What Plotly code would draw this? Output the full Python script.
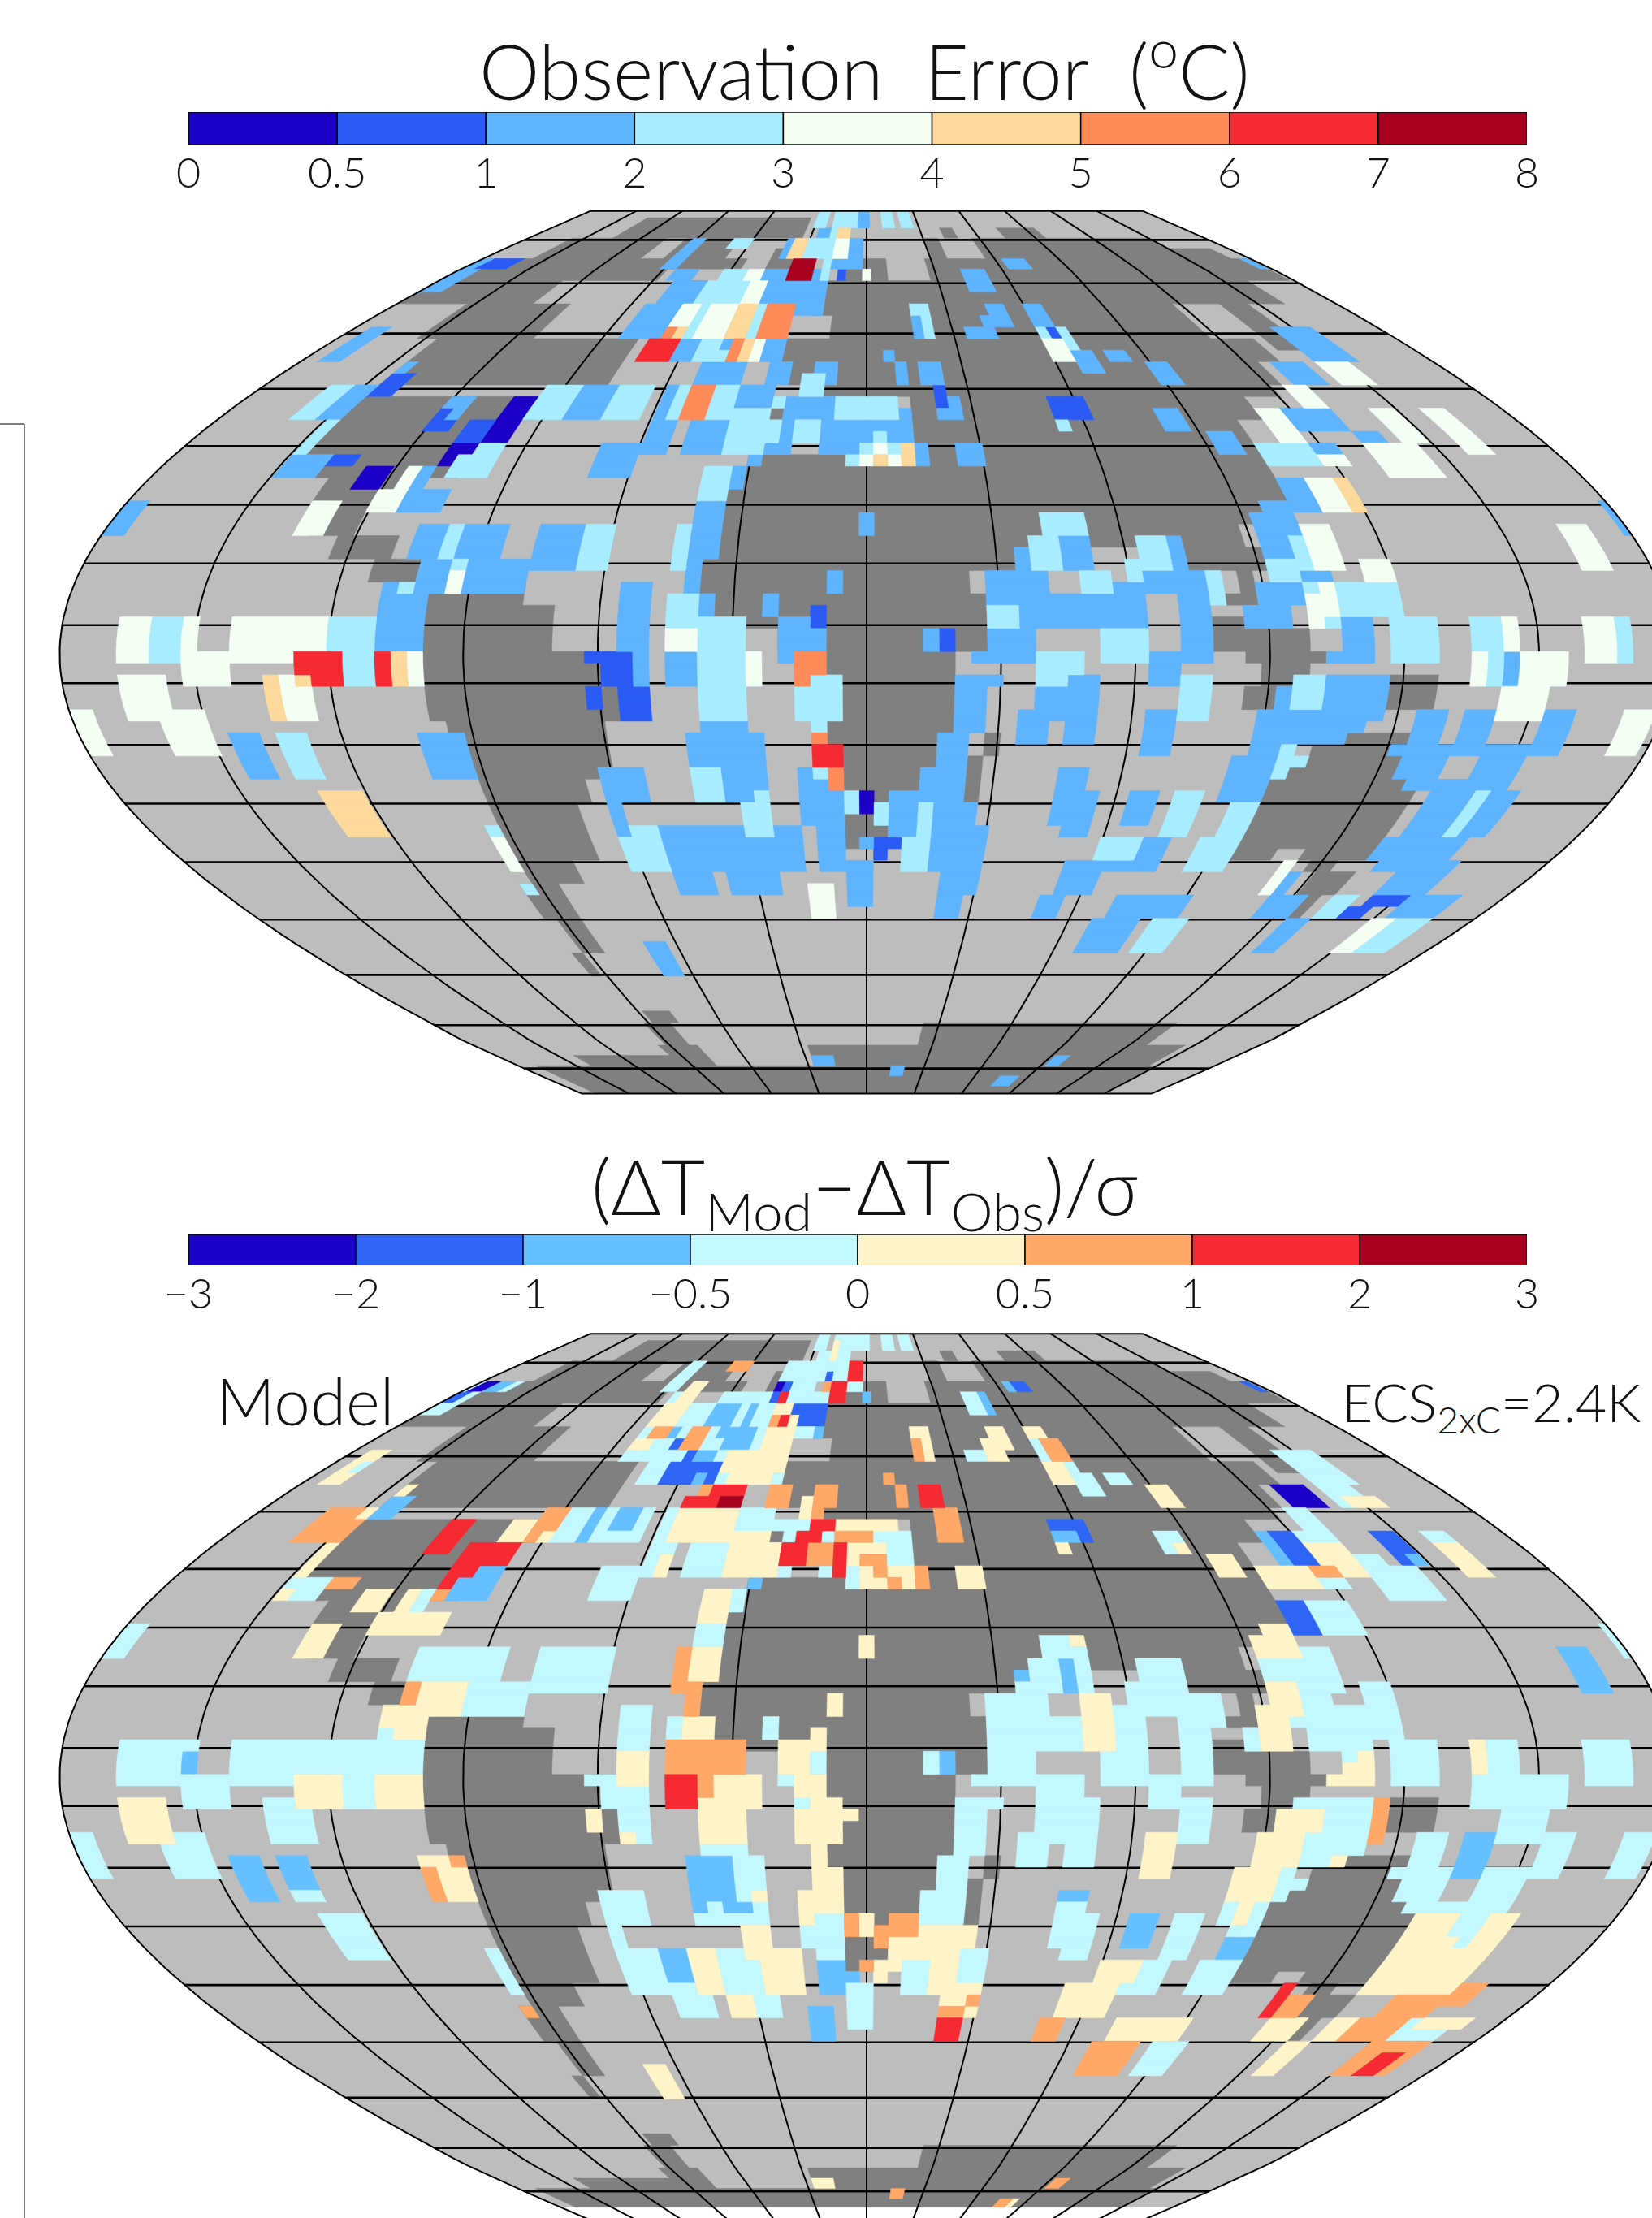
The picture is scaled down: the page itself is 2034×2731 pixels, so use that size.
import numpy as np
import plotly.graph_objects as go

# ---------- colour classes and tick labels ----------
TOP_TITLE = "Observation  Error  (<sup>o</sup>C)"
BOTTOM_TITLE = "(ΔT<sub>Mod</sub>−ΔT<sub>Obs</sub>)/σ"
TOP_TICKS = ["0", "0.5", "1", "2", "3", "4", "5", "6", "7", "8"]
BOTTOM_TICKS = ["−3", "−2", "−1", "−0.5", "0", "0.5", "1", "2", "3"]
TOP_COLORS = ["#1c00c8", "#2a5cf5", "#5fb4ff", "#a8ecff", "#f4fff4", "#fdd99b", "#ff8a5a", "#f52a33", "#a80020"]
BOTTOM_COLORS = ["#1c00c8", "#2f66f5", "#66c0ff", "#c4f8ff", "#fff4c8", "#ffa868", "#f52a33", "#a80020"]
OCEAN = "#bdbdbd"
LAND = "#808080"

# ---------- model grid: 3.6 deg columns, 1.8 deg rows ----------
LON_STEP = 3.6
LAT_STEP = 1.8
LAT_TOP = 70.6
MERIDIANS = list(range(-180, 181, 30))
PARALLELS = [64.9, 57.6, 49.8, 41.2, 32.3, 23.2, 14.1, 4.5, -4.5, -14.1, -23.2, -32.3, -41.2, -49.8, -57.6, -64.9]

# (first column, end column, first row, end row) of land
LAND_BLOCKS = [
 (-37,-9,1,3),(21,27,2,3),(12,14,2,3),(-43,-29,3,5),(-26,-18,3,6),(9,11,3,5),(16,42,3,4),(16,48,4,5),
 (-49,-24,5,7),(-21,-15,5,6),(-12,-9,4,7),(-2,3,5,7),(8,50,5,7),(-50,-35,7,9),(-20,-18,7,9),(-5,45,7,9),
 (-42,-31,9,12),(-5,33,9,10),(-3,33,10,12),(38,41,9,13),(-40,-21,12,16),(-8,37,12,14),(-6,35,14,16),
 (-41,-25,17,19),(-3,34,16,17),(4,31,17,19),(-7,-6,18,19),(-41,-28,19,22),(4,29,19,22),(-38,-28,22,24),
 (-8,29,22,24),(-37,-32,24,26),(-10,29,24,26),(-36,-33,26,29),(-9,27,26,28),(-34,-30,29,31),(-10,25,28,30),
 (-31,-28,31,33),(-10,10,30,32),(21,26,30,32),(-10,7,32,34),(24,25,32,34),(-28,-21,33,35),(-10,8,34,35),
 (23,25,34,35),(-27,-19,35,39),(-9,8,35,37),(22,24,36,37),(-5,8,37,39),(-7,-4,36,37),(22,28,37,39),
 (-27,-15,39,42),(-2,6,39,42),(24,29,39,40),(25,28,40,42),(24,26,42,44),(33,36,41,44),(-27,-15,42,45),
 (-1,6,42,45),(-26,-16,45,47),(-2,6,45,47),(-25,-16,47,50),(-1,5,47,50),(8,9,46,48),(7,8,48,52),
 (-25,-18,50,52),(-1,4,50,52),(-1,2,52,54),(-25,-19,52,57),(-1,2,54,56),(31,35,46,47),(29,35,47,49),
 (28,36,49,50),(27,37,50,56),(27,30,56,57),(32,37,56,57),(33,35,57,58),(34,37,58,60),(35,36,60,62),
 (-25,-21,57,59),(-26,-23,59,62),(-25,-23,62,65),(-26,-25,65,67),(-24,-21,70,71),(-25,-22,71,73),
 (7,36,71,73),(-26,-21,73,74),(-7,41,73,75),(-39,-21,74,75),(-47,42,75,78),
]

# (first column, end column, first row, end row, colour class) of the upper map
TOP_BLOCKS = [
 (-50,-47,5,8,2),(-48,-44,5,6,1),(-48,-46,11,14,2),(-40,-39,14,15,2),(-40,-38,15,17,1),(-44,-42,16,19,3),
 (-42,-40,16,19,2),(-41,-40,19,22,3),(-41,-38,22,24,2),(-38,-36,22,23,1),(-35,-33,23,25,0),(-32,-31,23,25,4),
 (-31,-30,23,25,2),(-33,-31,25,27,4),(-31,-28,25,27,2),(-37,-35,26,29,4),(-50,-48,26,29,2),(-33,-31,17,19,2),
 (-33,-31,19,20,1),(-33,-32,18,19,1),(-28,-26,17,19,0),(-30,-28,19,21,1),(-28,-26,19,21,0),(-30,-28,21,23,0),
 (-28,-26,21,22,3),(-29,-26,22,24,3),(-26,-23,16,19,3),(-23,-20,16,19,2),(-20,-17,16,19,3),
 (-29,-27,28,31,2),(-27,-26,28,31,3),(-26,-23,28,31,2),(-21,-18,28,31,2),(-18,-16,28,32,3),
 (-28,-26,31,34,2),(-26,-25,31,32,3),(-26,-25,32,34,4),(-25,-21,31,34,2),(-21,-18,31,32,2),
 (-30,-27,33,39,2),(-29,-28,33,34,3),
 (-46,-44,36,40,4),(-44,-42,36,40,3),(-42,-41,36,40,4),(-39,-33,36,40,4),(-33,-30,36,39,3),
 (-35,-32,39,42,7),(-32,-30,39,42,3),(-30,-29,39,42,7),(-29,-28,39,42,5),(-28,-27,39,42,4),(-42,-39,39,42,4),
 (-46,-43,41,45,4),(-44,-41,44,48,4),(-37,-36,41,45,5),(-36,-34,41,45,4),(-35,-34,41,42,5),(-50,-48,44,48,4),
 (-40,-38,46,50,2),(-37,-35,46,50,3),(-28,-25,46,50,2),(-36,-33,51,55,5),(-26,-25,54,55,3),(-26,-25,55,58,4),(-26,-25,59,60,3),
 (-8,-6,0,2,3),(-5,-1,0,2,3),(-1,1,0,2,2),(3,5,0,2,3),(6,8,0,2,3),(-7,-5,2,3,2),(-5,-4,2,3,3),(-4,-2,2,3,5),
 (-19,-16,3,4,3),(-11,-10,3,5,2),(-10,-8,3,5,5),(-8,-4,3,5,3),(-4,-2,3,5,4),(-2,0,3,5,2),
 (-4,0,5,6,2),(-3,-2,6,7,1),(0,1,6,7,4),(-25,-23,3,6,2),
 (-23,-20,6,7,2),(-17,-14,6,7,3),(-14,-12,6,7,4),(-12,-5,6,7,2),(-9,-6,5,7,8),(-5,-4,5,7,3),
 (-22,-18,7,9,2),(-18,-13,7,9,3),(-13,-11,7,9,4),(-11,-4,7,9,2),(-7,-4,9,10,2),
 (-23,-19,9,12,2),(-19,-17,9,12,4),(-17,-16,9,12,3),(-16,-13,9,12,4),(-13,-11,9,12,5),(-11,-10,9,12,3),(-10,-7,9,12,6),
 (-19,-18,11,12,6),(-18,-17,11,12,5),
 (-20,-17,12,14,7),(-17,-15,12,14,2),(-15,-13,12,14,3),(-13,-12,13,14,3),(-13,-12,12,13,2),(-12,-11,12,14,6),
 (-11,-10,12,14,5),(-10,-9,12,14,4),(-9,-7,12,14,2),
 (-14,-10,14,16,2),(-8,-6,14,16,2),(-4,-2,14,15,2),(-3,-2,15,16,2),(-5,-3,15,17,3),(2,3,13,14,2),(3,4,14,16,2),(5,7,14,16,2),
 (5,7,9,10,3),(5,6,10,12,2),(6,7,10,12,3),(12,15,6,8,2),(18,21,5,6,2),(13,15,9,10,2),(12,15,10,11,2),(10,13,11,12,2),
 (17,19,9,11,2),(17,20,11,12,3),(18,19,11,12,1),(17,19,12,14,4),(19,20,12,14,3),(19,21,13,15,2),(22,24,13,14,2),
 (25,27,14,16,2),(23,25,18,20,2),(26,28,20,22,2),
 (-16,-15,16,19,2),(-15,-14,16,19,3),(-14,-12,16,19,6),(-12,-10,16,19,3),(-10,-7,16,18,2),(-7,-6,17,18,3),(-10,-7,18,19,3),
 (-6,-2,17,19,2),(-2,3,17,19,3),(3,4,18,22,2),
 (-16,-14,19,22,2),(-13,-10,19,22,2),(-10,-6,19,22,3),(-6,-5,19,22,2),(-5,-3,19,21,3),(-3,4,19,21,2),
 (-3,0,21,22,2),(-1,0,22,23,3),(0,1,22,23,4),(1,2,22,23,5),(2,3,22,23,4),(3,4,21,23,5),(4,5,21,23,2),
 (0,1,21,22,3),(1,2,21,22,4),(2,3,21,22,3),(1,2,20,21,3),(7,9,21,23,2),
 (6,7,16,18,1),(7,8,17,19,2),(6,7,18,19,2),(15,18,17,19,1),(15,16,19,20,3),
 (-19,-16,21,24,2),(-8,-7,22,23,2),(-7,-6,21,22,2),(-11,-9,23,26,3),(-9,-8,23,25,2),(-11,-9,26,28,2),
 (-12,-11,28,32,3),(-11,-9,28,31,2),(-11,-10,31,34,2),(-15,-13,33,39,2),(-12,-10,34,37,3),(-12,-10,37,39,4),
 (-10,-9,34,37,2),(-10,-7,36,39,3),(-6,-5,34,36,2),(-5,-2,36,39,2),(-3,-2,35,37,1),(-2,-1,32,34,2),(0,1,27,29,2),
 (12,15,27,29,3),(11,13,29,32,3),(13,15,29,32,2),(10,11,30,32,2),(8,12,32,34,2),(14,16,32,35,3),(8,14,34,35,2),
 (10,18,34,37,2),(8,10,35,37,3),(8,11,37,39,2),(15,18,37,39,3),(4,5,37,39,2),(5,6,37,39,1),
 (49,50,5,6,2),(40,44,11,14,2),(36,39,14,16,2),(40,43,14,16,4),(35,37,16,18,4),(33,37,18,20,2),(31,33,18,21,4),
 (37,39,20,22,2),(33,35,21,22,2),(29,33,21,23,3),(33,35,22,23,4),(31,33,24,27,4),(33,34,24,27,5),(29,31,24,26,2),
 (27,31,26,27,2),(26,29,27,29,2),(26,28,29,31,2),(28,29,29,32,3),(29,31,28,32,4),(26,28,31,34,3),(28,30,32,34,2),
 (32,34,31,34,4),(40,42,18,21,4),(44,46,18,22,4),(37,41,21,24,4),(46,48,28,32,4),(50,51,26,29,2),
 (45,47,36,39,4),(47,48,36,39,3),(38,40,36,39,3),(40,41,36,39,4),(30,34,33,36,3),(28,30,34,37,4),(28,29,33,34,3),
 (29,30,33,34,4),(33,36,36,39,3),(30,32,36,39,2),(29,30,36,37,3),(24,27,35,37,2),(25,28,33,35,2),
 (18,22,32,34,2),(22,23,32,35,3),(17,18,32,34,3),(17,20,31,32,3),(18,20,29,31,3),(20,21,29,32,2),
 (16,18,34,37,2),(20,22,34,39,2),(16,22,33,34,2),(16,18,37,39,3),
 (-17,-14,39,40,1),(-16,-14,40,42,1),(-14,-13,39,42,2),(-15,-13,42,45,1),(-17,-16,42,44,1),(-12,-10,39,42,2),
 (-10,-7,39,45,3),(-7,-6,39,42,4),(-10,-7,45,46,2),(-11,-6,46,49,2),(-11,-9,49,52,3),(-9,-6,49,52,2),
 (-5,-4,39,40,2),(-4,-2,39,41,6),(-4,-3,41,42,6),(-3,-1,41,45,3),(-4,-3,42,45,3),(-3,-2,45,46,3),(-3,-2,46,47,6),
 (-3,-1,47,49,7),(-4,-3,49,51,2),(-3,-2,49,50,3),(-3,-2,50,51,2),(-2,-1,49,51,6),(-4,-1,51,54,2),
 (-14,-4,54,58,2),(-17,-14,54,58,3),(-8,-6,52,55,3),(-7,-6,51,52,3),(-14,-11,58,60,2),(-10,-6,58,60,2),
 (-17,-14,49,52,2),(-17,-16,52,55,2),
 (-3,-1,54,58,2),(-1,1,57,61,2),(-1,0,51,53,3),(0,1,51,53,0),(1,2,52,54,3),(2,3,53,54,3),(0,1,55,56,2),(1,3,55,56,1),(1,2,56,57,1),
 (2,4,51,52,2),(2,4,52,55,2),(4,7,49,52,2),(5,7,46,49,2),(6,8,42,46,2),(6,9,41,42,2),(4,5,52,55,3),(3,5,55,58,3),
 (5,9,54,58,2),(5,8,52,54,2),(6,9,58,60,2),(6,8,60,62,2),(13,15,49,51,2),(13,16,51,54,2),(14,16,54,55,2),(17,18,55,57,3),
 (11,14,39,42,3),(15,18,39,40,3),(7,11,39,40,2),(11,15,42,44,2),(13,15,41,42,2),(10,15,44,45,2),(10,12,45,47,2),(13,15,45,47,2),
 (-4,-2,59,62,4),(-19,-17,64,67,2),(-7,-4,74,75,2),(4,6,75,76,2),(26,28,74,75,2),(21,24,76,77,2),
 (18,22,39,40,2),(29,32,39,40,2),(33,36,39,40,3),(38,39,39,42,4),(39,40,39,42,3),(40,41,39,42,2),(41,44,39,42,4),
 (45,47,39,40,4),(47,48,39,40,3),(18,20,40,42,2),(20,22,41,45,3),(18,20,44,48,2),(27,29,41,44,3),(29,33,41,44,2),
 (26,27,42,44,2),(25,33,44,45,2),(25,32,45,46,2),(25,31,46,47,2),(25,28,47,48,2),(24,27,48,52,2),(27,28,47,50,3),(28,29,48,49,3),
 (25,27,52,55,3),(24,27,55,58,3),(18,20,51,54,2),(21,23,51,55,3),(18,20,55,57,3),(20,22,55,57,2),(18,22,57,58,2),
 (20,26,60,62,2),(21,23,62,65,2),(24,27,62,65,3),(15,18,57,60,2),(14,16,60,62,2),(19,21,62,65,2),
 (31,32,57,60,4),(32,33,58,60,2),(32,35,60,62,2),(35,37,62,65,2),(37,39,60,62,3),(40,43,60,61,1),(39,41,61,62,1),
 (42,44,62,65,4),(44,47,62,65,3),(35,37,44,47,2),(38,40,44,47,2),(43,45,44,47,2),(34,45,47,48,2),(35,38,48,50,2),(40,43,48,50,2),
 (36,43,50,51,2),(38,41,51,55,2),(42,44,51,55,2),(41,42,51,55,3),(37,43,55,57,2),(38,44,57,58,2),(40,44,58,60,2),(43,47,60,62,2),
 (40,43,42,45,4),(41,43,41,42,4),(48,50,44,48,4),
]

# Lower map: same cells as the upper map, class 3 unless listed here
BOTTOM_BLOCKS = [
 (-49,-47,5,6,0),(-47,-45,5,6,2),(-50,-48,6,7,1),(-48,-46,11,14,4),(-47,-46,12,13,3),(-44,-40,16,19,5),(-41,-40,16,17,4),
 (-40,-38,15,17,2),(-40,-39,14,15,4),(-41,-40,19,22,4),(-41,-40,23,24,4),(-38,-36,22,23,5),(-35,-33,23,25,4),
 (-33,-31,25,27,4),(-31,-28,25,27,4),(-32,-31,23,25,4),(-31,-30,23,25,3),(-37,-35,26,29,4),
 (-33,-31,17,19,6),(-33,-31,19,20,6),(-33,-32,18,19,6),(-30,-28,19,21,6),(-28,-26,19,21,6),(-30,-28,21,23,6),(-30,-28,23,24,5),
 (-28,-26,21,22,2),(-29,-26,22,24,2),(-28,-26,17,19,4),(-26,-24,16,19,5),(-25,-24,18,19,4),(-22,-21,16,19,2),(-20,-18,16,18,2),
 (-28,-25,31,34,4),(-29,-28,31,33,5),(-29,-28,33,34,4),(-30,-29,33,35,4),(-29,-27,34,36,4),(-42,-41,37,39,2),
 (-35,-32,39,42,4),(-30,-27,39,42,4),(-46,-43,41,45,4),(-40,-38,46,50,2),(-37,-35,46,49,2),(-28,-25,46,50,4),
 (-28,-27,47,50,5),(-26,-25,46,47,5),(-26,-25,59,60,5),
 (-5,-4,1,3,4),(-19,-16,3,4,5),(-2,0,3,5,6),(-4,-2,5,7,6),(-5,-4,4,5,1),(-11,-9,5,7,1),(-11,-10,5,6,0),(-10,-9,6,7,6),(0,1,6,7,2),(-5,-4,5,6,5),
 (-23,-20,7,9,4),(-22,-20,5,7,4),(-22,-20,9,10,5),(-23,-21,10,12,4),(-23,-21,11,12,3),(-19,-18,10,11,1),(-20,-19,9,10,2),(-18,-16,9,11,5),
 (-17,-14,7,9,2),(-13,-12,7,11,2),(-15,-13,9,10,2),(-14,-13,10,11,2),(-12,-11,9,11,2),(-10,-7,7,12,4),(-13,-7,11,13,4),
 (-8,-4,7,8,1),(-7,-4,8,9,1),(-5,-4,9,10,2),(-9,-8,8,9,6),(-10,-9,8,9,5),
 (-18,-13,12,14,1),(-17,-16,11,12,1),(-16,-14,11,12,2),(-15,-14,13,14,2),
 (-14,-10,14,15,6),(-15,-12,15,16,6),(-12,-10,15,16,7),(-14,-13,14,15,5),(-12,-8,12,14,4),(-8,-6,14,16,5),(-4,-2,14,16,5),(-4,-3,16,17,5),(-5,-4,15,17,4),
 (-15,-10,16,18,4),(-10,-7,18,19,4),(-15,-10,18,19,4),(-4,-2,17,18,6),(-5,-3,18,19,6),(-6,-4,19,21,6),(-4,-2,19,21,5),(-2,-1,19,22,6),(-2,1,18,19,5),(-2,3,17,18,4),(2,4,18,21,3),
 (-1,2,19,21,4),(0,2,20,21,5),(-1,0,21,23,3),(0,3,21,23,4),(1,2,21,22,5),(2,3,22,23,5),(3,4,21,23,4),(4,5,21,23,5),(3,4,19,21,3),
 (-10,-6,19,22,4),(-15,-14,20,22,4),(-8,-7,22,23,2),(2,3,13,14,5),(3,4,14,16,5),(5,7,14,16,6),(6,8,16,19,5),(15,18,17,18,1),(15,17,18,19,2),(17,18,18,19,1),(15,16,19,20,4),
 (5,7,9,12,4),(5,6,10,12,5),(14,15,6,8,2),(18,19,5,6,2),(19,21,5,6,1),(13,15,9,10,4),(12,15,10,11,4),(12,14,11,12,4),(17,19,9,10,4),(18,20,10,12,5),(17,19,12,14,4),
 (7,9,21,23,4),(0,1,27,29,4),(25,27,14,16,4),(24,25,19,20,4),(26,28,20,22,4),
 (-11,-9,23,26,4),(-12,-11,28,32,5),(-11,-9,28,31,4),(-11,-10,31,34,5),(-11,-9,34,37,4),(-12,-7,36,39,5),(-12,-10,39,42,6),(-10,-9,39,41,5),
 (-10,-7,41,45,4),(-9,-6,39,41,4),(-7,-6,41,42,4),(-15,-13,37,40,4),(-5,-3,36,39,4),(-3,-2,35,37,4),(-2,-1,32,34,4),(4,5,37,39,3),(5,6,37,39,2),
 (10,11,30,31,2),(13,14,29,32,2),(14,15,27,28,4),(14,16,32,37,4),
 (49,50,5,6,1),(36,39,14,16,0),(41,44,15,16,4),(31,32,18,21,2),(32,34,18,21,1),(34,37,19,22,4),(33,35,21,22,5),(40,42,18,21,1),(41,42,20,21,2),(44,46,19,22,4),
 (29,33,21,23,4),(29,31,24,27,1),(26,29,27,29,4),(27,29,26,27,4),(46,48,28,32,2),(38,39,36,39,4),(26,28,31,34,4),(25,27,33,37,4),(31,32,37,39,4),(30,31,38,39,4),
 (29,32,39,40,4),(32,33,41,45,5),(26,29,42,44,4),(25,28,44,47,4),(24,27,47,50,4),(25,26,50,52,4),(27,28,41,42,3),(30,31,46,47,4),(18,20,44,48,4),
 (18,20,51,54,2),(25,27,53,55,2),(18,20,55,57,4),(15,19,57,60,4),(20,26,60,62,4),(21,23,62,65,5),(14,16,60,62,5),(38,40,44,48,2),
 (31,32,57,60,6),(32,34,58,60,5),(32,35,60,62,4),(37,39,60,62,4),(35,37,62,65,4),(37,44,51,58,4),(40,42,51,53,3),(41,42,53,54,3),
 (40,44,58,60,5),(39,43,60,62,5),(44,48,60,61,4),(44,47,61,62,3),(42,47,62,65,5),(44,46,63,65,6),(44,46,57,59,5),
 (-17,-16,42,44,4),(-15,-14,44,45,4),(-11,-8,46,51,2),(-10,-9,50,51,3),(-8,-7,50,51,2),(-7,-6,49,50,4),(-8,-6,52,55,4),
 (-12,-10,54,58,4),(-14,-12,54,57,2),(-7,-4,54,58,4),(-10,-8,58,60,4),(-4,-2,59,62,2),
 (-4,-2,39,41,4),(-3,-1,41,45,4),(-4,-3,42,45,4),(-1,0,42,43,4),(-3,-2,45,47,4),(-3,-1,47,51,4),(-4,-1,49,51,4),(-3,-1,51,54,3),(-4,-3,51,52,4),
 (-3,-1,55,58,2),(-1,0,56,57,2),(-1,0,51,53,5),(0,1,51,53,4),(1,2,52,54,5),(2,4,51,53,5),(0,1,55,56,5),(1,3,55,56,4),(1,2,56,57,4),(2,5,53,55,4),(4,5,52,53,4),
 (5,7,52,58,4),(7,9,54,57,3),(6,8,52,54,4),(6,9,57,60,4),(8,9,58,59,5),(6,8,59,60,5),(6,8,60,62,6),
 (-19,-17,64,67,4),(-7,-4,74,75,4),(4,6,75,76,5),(26,28,74,75,5),(21,23,76,77,5),(23,24,76,77,4),(13,15,49,50,2),(17,18,55,57,4),(19,21,62,65,5),
]

# ---------- grids ----------
N_ROWS, K_MIN, K_MAX = 78, -51, 52


def make_grid(blocks, start=None, default_class=None):
    g = np.full((N_ROWS, K_MAX - K_MIN), -1, dtype=int) if start is None else start.copy()
    if default_class is not None:
        g[g >= 0] = default_class
    for b in blocks:
        k0, k1, r0, r1 = b[:4]
        g[r0:r1, k0 - K_MIN:k1 - K_MIN] = b[4] if len(b) > 4 else 0
    return g


land_grid = make_grid(LAND_BLOCKS)
top_grid = make_grid(TOP_BLOCKS)
bottom_grid = make_grid(BOTTOM_BLOCKS, start=top_grid, default_class=3)

# ---------- projection: sinusoidal with slightly compressed polar rows ----------
PX_LON = 5.52      # px per projected degree
PX_LAT = 7.93      # px per latitude unit
POLAR = 7.0 / 7.93


def yproj(lat):
    lat = np.asarray(lat, dtype=float)
    a = np.abs(lat)
    return np.sign(lat) * np.where(a <= 60, a, 60 + (a - 60) * POLAR)


def xproj(lon, lat):
    return np.asarray(lon, dtype=float) * np.cos(np.radians(lat))


def cell_polys(grid, classes, lat_min):
    """Run-merge each row, return per-class x, y lists with None separators."""
    out = {c: ([], []) for c in classes}
    for r in range(N_ROWS):
        t = min(LAT_TOP - LAT_STEP * r, 70.0)
        b = max(LAT_TOP - LAT_STEP * (r + 1), lat_min)
        if t <= b:
            continue
        row = grid[r]
        i = 0
        while i < len(row):
            j = i
            while j < len(row) and row[j] == row[i]:
                j += 1
            c = row[i]
            if c in out:
                l = max(LON_STEP * (i + K_MIN - 0.5), -180)
                h = min(LON_STEP * (j + K_MIN - 0.5), 180)
                if h > l:
                    xs = [xproj(l, t), xproj(h, t), xproj(h, b), xproj(l, b), xproj(l, t), None]
                    ys = [yproj(t), yproj(t), yproj(b), yproj(b), yproj(t), None]
                    out[c][0].extend(float(v) if v is not None else None for v in xs)
                    out[c][1].extend(float(v) if v is not None else None for v in ys)
            i = j
    return out


fig = go.Figure()
W, H = 2034, 2731
CX = 1067
PANELS = [
    dict(cy=805.5, top=250, bot=1360, x="x", y="y", grid=top_grid, colors=TOP_COLORS, fill_min=-69.3, line_min=-69.3),
    dict(cy=2188.0, top=1632, bot=2731, x="x2", y="y2", grid=bottom_grid, colors=BOTTOM_COLORS, fill_min=-67.7, line_min=-71.0),
]

for p in PANELS:
    ax = dict(xaxis=p["x"], yaxis=p["y"], hoverinfo="skip", showlegend=False)
    # ocean background
    lats = np.linspace(70, p["fill_min"], 120)
    ox = np.concatenate([xproj(180, lats), xproj(-180, lats[::-1])])
    oy = np.concatenate([yproj(lats), yproj(lats[::-1])])
    fig.add_trace(go.Scatter(x=ox, y=oy, mode="lines", fill="toself", fillcolor=OCEAN, line=dict(width=0), **ax))
    # land
    lp = cell_polys(land_grid, [0], p["fill_min"])[0]
    fig.add_trace(go.Scatter(x=lp[0], y=lp[1], mode="lines", fill="toself", fillcolor=LAND,
                             line=dict(color=LAND, width=0.5), **ax))
    # graticule
    hx, hy = [], []
    for la in PARALLELS:
        hx += [float(xproj(-180, la)), float(xproj(180, la)), None]
        hy += [float(yproj(la)), float(yproj(la)), None]
    fig.add_trace(go.Scatter(x=hx, y=hy, mode="lines", line=dict(color="black", width=2.6), **ax))
    mx, my = [], []
    mlats = np.linspace(70, p["line_min"], 120)
    for lo in MERIDIANS[1:-1]:
        mx += list(xproj(lo, mlats)) + [None]
        my += list(yproj(mlats)) + [None]
    fig.add_trace(go.Scatter(x=mx, y=my, mode="lines", line=dict(color="black", width=2), **ax))
    # data cells
    polys = cell_polys(p["grid"], list(range(len(p["colors"]))), p["fill_min"])
    for c, col in enumerate(p["colors"]):
        if polys[c][0]:
            fig.add_trace(go.Scatter(x=polys[c][0], y=polys[c][1], mode="lines", fill="toself", fillcolor=col,
                                     line=dict(color=col, width=0.5), **ax))
    # outline
    ex, ey = [], []
    for lo in (-180, 180):
        ex += list(xproj(lo, mlats)) + [None]
        ey += list(yproj(mlats)) + [None]
    ex += [float(xproj(-180, 70)), float(xproj(180, 70)), None]
    ey += [float(yproj(70)), float(yproj(70)), None]
    if p["line_min"] > -70:
        ex += [float(xproj(-180, p["line_min"])), float(xproj(180, p["line_min"]))]
        ey += [float(yproj(p["line_min"])), float(yproj(p["line_min"]))]
    fig.add_trace(go.Scatter(x=ex, y=ey, mode="lines", line=dict(color="black", width=2), **ax))


def colorbar(colors, xa, ya):
    n = len(colors)
    fig.add_trace(go.Bar(x=[i + 0.5 for i in range(n)], y=[1] * n, width=[1] * n, xaxis=xa, yaxis=ya,
                         marker=dict(color=colors, line=dict(color="black", width=1.5)),
                         hoverinfo="skip", showlegend=False))


colorbar(TOP_COLORS, "x3", "y3")
colorbar(BOTTOM_COLORS, "x4", "y4")

FONT = "Lato"
hidden = dict(visible=False, fixedrange=True, automargin=False)
xr = [(0 - CX) / PX_LON, (W - CX) / PX_LON]


def frac(y):
    return 1 - y / H


layout = dict(
    template="none",
    width=W, height=H, autosize=False, margin=dict(l=0, r=0, t=0, b=0, pad=0),
    paper_bgcolor="white", plot_bgcolor="white", showlegend=False, barmode="overlay",
    font=dict(family=FONT, color="#111111"),
    xaxis=dict(range=xr, domain=[0, 1], anchor="y", **hidden),
    xaxis2=dict(range=xr, domain=[0, 1], anchor="y2", **hidden),
)
for i, p in enumerate(PANELS):
    key = "yaxis" if i == 0 else "yaxis2"
    layout[key] = dict(range=[(p["cy"] - p["bot"]) / PX_LAT, (p["cy"] - p["top"]) / PX_LAT],
                       domain=[frac(p["bot"]), frac(p["top"])], anchor="x" if i == 0 else "x2", **hidden)

for idx, ticks, n, top, bot in ((3, TOP_TICKS, 9, 138, 178), (4, BOTTOM_TICKS, 8, 1520, 1558)):
    layout[f"xaxis{idx}"] = dict(range=[0, n], domain=[232 / W, 1880 / W], anchor=f"y{idx}", tickmode="array",
                                 tickvals=list(range(n + 1)), ticktext=ticks, ticks="", showgrid=False,
                                 zeroline=False, showline=False, ticklabelstandoff=0, automargin=False,
                                 tickfont=dict(size=52, family=FONT, weight=300, color="#111111"), fixedrange=True)
    layout[f"yaxis{idx}"] = dict(range=[0, 1], domain=[frac(bot), frac(top)], anchor=f"x{idx}", **hidden)

txt = lambda s, x, y, size, anchor="center": dict(
    text=s, x=x / W, y=frac(y), xref="paper", yref="paper", xanchor=anchor, yanchor="middle", showarrow=False,
    font=dict(size=size, family=FONT, weight=300, color="#111111"))
layout["annotations"] = [
    txt(TOP_TITLE, 1064, 81, 94),
    txt(BOTTOM_TITLE, 1064, 1466, 94),
    txt("Model", 264, 1724, 80, "left"),
    txt("ECS<sub>2xC</sub>=2.4K", 1650, 1730, 66, "left"),
]
layout["shapes"] = [
    dict(type="line", xref="paper", yref="paper", x0=0, x1=30 / W, y0=frac(522), y1=frac(522), line=dict(color="#555555", width=1.5)),
    dict(type="line", xref="paper", yref="paper", x0=30 / W, x1=30 / W, y0=frac(522), y1=0, line=dict(color="#555555", width=1.5)),
]
fig.update_layout(**layout)
fig.write_html("out.html", config=dict(displayModeBar=False),
               post_script="document.body.style.margin='0';document.body.style.overflow='hidden';window.dispatchEvent(new Event('resize'));")
